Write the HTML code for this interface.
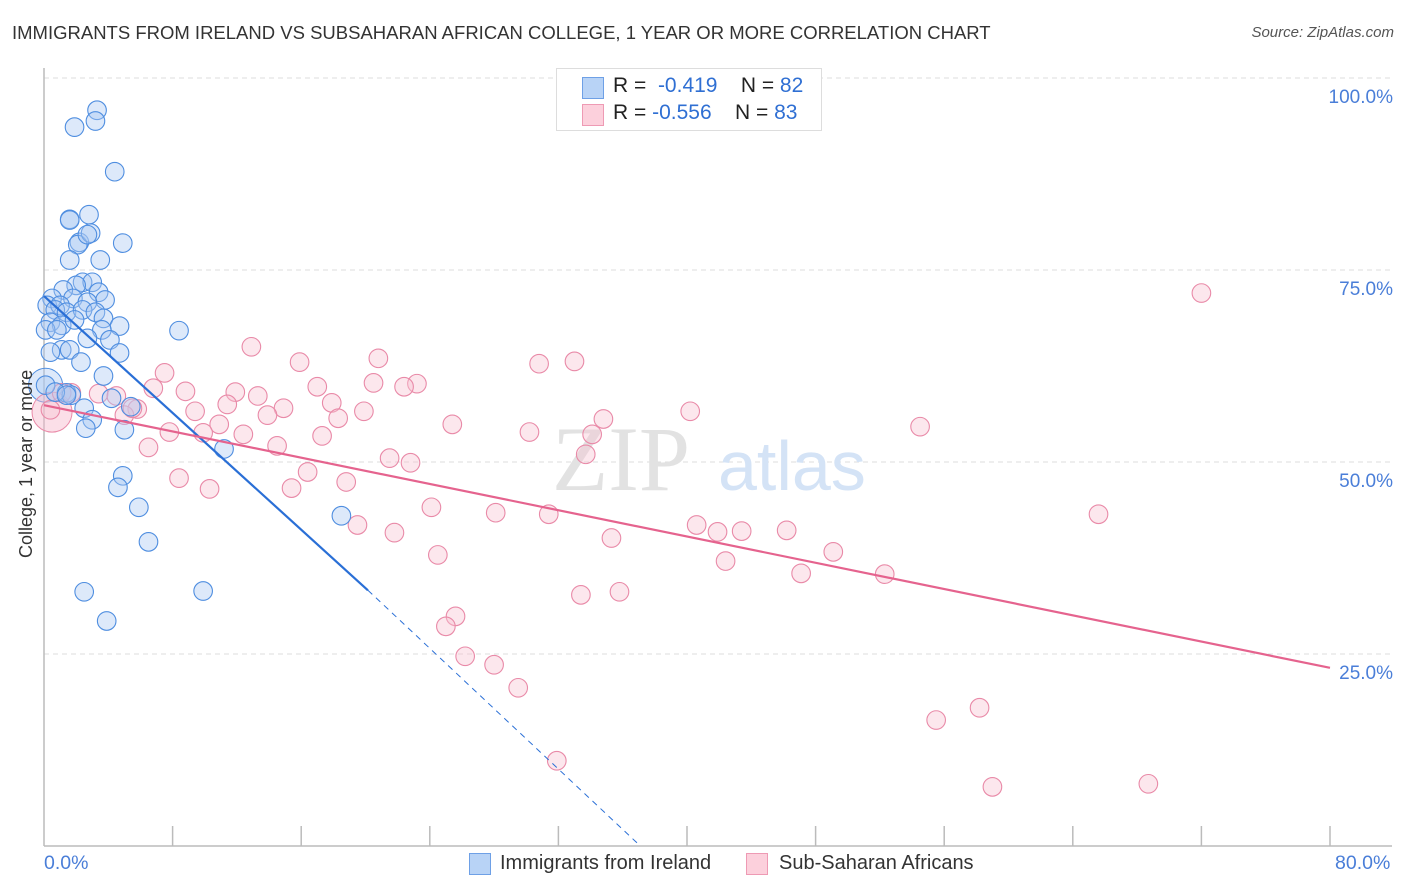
<!DOCTYPE html>
<html><head><meta charset="utf-8"><style>
body{margin:0;background:#fff;font-family:"Liberation Sans",sans-serif;}
#wrap{position:relative;width:1406px;height:892px;overflow:hidden;}
.t{position:absolute;white-space:nowrap;}
</style></head><body>
<div id="wrap">
<div class="t" style="left:12px;top:22px;font-size:18.5px;color:#333;">IMMIGRANTS FROM IRELAND VS SUBSAHARAN AFRICAN COLLEGE, 1 YEAR OR MORE CORRELATION CHART</div>
<div class="t" style="right:12px;top:24px;font-size:15px;color:#555;font-style:italic;">Source: ZipAtlas.com</div>
<svg id="svg" width="1406" height="892" style="position:absolute;left:0;top:0"></svg>
</div>
<script>
const yTicks=[100,75,50,25];
const yTickLabels=["100.0%","75.0%","50.0%","25.0%"];
const xTickVals=[0,8,16,24,32,40,48,56,64,72,80];
const blueX=[3.3,3.2,1.9,4.4,1.6,2.8,1.6,2.2,2.1,4.9,2.9,2.7,1.6,3.5,2.4,3.0,2.0,1.2,3.4,0.5,1.8,3.8,0.2,1.0,2.7,0.7,1.4,2.4,3.2,0.4,1.1,3.7,4.7,8.4,0.1,0.8,3.6,2.7,4.1,1.1,0.4,1.6,4.7,2.3,3.7,0.1,1.4,1.7,4.2,2.5,5.4,3.0,2.6,5.0,11.2,4.9,4.6,5.9,6.5,18.5,2.5,9.9,3.9,1.9,0.7,1.4];
const blueY=[95.8,94.4,93.6,87.8,81.6,82.2,81.5,78.6,78.3,78.5,79.8,79.6,76.3,76.3,73.4,73.4,73.0,72.4,72.1,71.3,71.3,71.1,70.4,70.4,70.8,69.8,69.5,69.8,69.5,68.2,67.8,68.7,67.7,67.1,67.2,67.2,67.2,66.1,65.9,64.6,64.3,64.6,64.2,63.0,61.2,60.0,59.0,58.7,58.3,57.0,57.2,55.5,54.4,54.2,51.7,48.2,46.7,44.1,39.6,43.0,33.1,33.2,29.3,68.5,59.1,58.7];
const pinkX=[72.0,12.9,20.8,33.0,15.9,30.8,7.5,20.5,23.2,22.4,17.0,11.9,6.8,8.8,13.3,1.7,3.4,1.1,4.5,11.4,17.9,14.9,9.4,19.9,5.8,5.0,13.9,18.3,34.8,40.2,25.4,54.5,10.9,7.8,9.9,12.4,17.3,30.2,34.1,6.5,14.5,21.5,22.8,33.7,16.4,8.4,18.8,10.3,15.4,24.1,28.1,31.4,65.6,40.6,41.9,43.4,46.2,19.5,21.8,35.3,49.1,24.5,42.4,47.1,52.3,33.4,35.8,25.6,25.0,26.2,28.0,29.5,58.2,55.5,31.9,59.0,68.7,0.4,5.5];
const pinkY=[72.0,65.0,63.5,63.1,63.0,62.8,61.6,60.3,60.2,59.8,59.8,59.1,59.6,59.2,58.6,59.0,58.9,59.0,58.6,57.5,57.7,57.0,56.6,56.6,56.9,56.1,56.1,55.7,55.6,56.6,54.9,54.6,54.9,53.9,53.8,53.6,53.4,53.9,53.6,51.9,52.1,50.5,49.9,51.0,48.7,47.9,47.4,46.5,46.6,44.1,43.4,43.2,43.2,41.8,40.9,41.0,41.1,41.8,40.8,40.1,38.3,37.9,37.1,35.5,35.4,32.7,33.1,29.9,28.6,24.7,23.6,20.6,18.0,16.4,11.1,7.7,8.1,56.8,57.0];
const blueTrend=[[0,71.6],[20.15,33.3],[37.1,0]];
const pinkTrend=[[0,57.4],[80,23.2]];
const X0=44,X1=1330,Y0=846,Y100=78;
const sx=v=>X0+(X1-X0)*v/80;
const sy=v=>Y0-(Y0-Y100)*v/100;
const svg=document.getElementById('svg');
const NS='http://www.w3.org/2000/svg';
function mk(tag,attrs,parent){const e=document.createElementNS(NS,tag);for(const k in attrs)e.setAttribute(k,attrs[k]);(parent||svg).appendChild(e);return e;}
yTicks.forEach((t,i)=>{
  const g=mk('line',{x1:X0,x2:1392,y1:sy(t),y2:sy(t),stroke:'#ddd','stroke-dasharray':'5,4'});
  
  
  const tx=mk('text',{x:1393,y:sy(t)+25,'text-anchor':'end','font-size':19,fill:'#4a7ed8','font-family':'Liberation Sans'});
  tx.textContent=yTickLabels[i];
  
  
});
const wm=mk('text',{x:552,y:490,'font-size':92,fill:'#e2e2e2','font-family':'Liberation Serif'});wm.textContent='ZIP';


const wm2=mk('text',{x:718,y:490,'font-size':70,fill:'#d4e3f6','font-family':'Liberation Sans'});wm2.textContent='atlas';


const ax=mk('line',{x1:X0,x2:1392,y1:Y0,y2:Y0,stroke:'#bbb','stroke-width':1.5});


const ay=mk('line',{x1:X0,x2:X0,y1:68,y2:Y0,stroke:'#bbb','stroke-width':1.5});


xTickVals.forEach(v=>{if(v===0)return;const t=mk('line',{x1:sx(v),x2:sx(v),y1:826,y2:Y0,stroke:'#bbb','stroke-width':1.5});
  
  });
function dots(xs,ys,fill,stroke,name){xs.forEach((x,i)=>{
  const c=mk('circle',{cx:sx(x),cy:sy(ys[i]),r:9.3,fill:fill,'fill-opacity':0.4,stroke:stroke,'stroke-width':1.1});
  
  });}
const bl=mk('circle',{cx:sx(0.1),cy:sy(60),r:17,fill:'#a9c9f3','fill-opacity':0.4,stroke:'#4f8ee0','stroke-width':1});


const pl=mk('circle',{cx:sx(0.5),cy:sy(56.5),r:20,fill:'#f6b8cb','fill-opacity':0.45,stroke:'#e98aa8','stroke-width':1});


dots(pinkX,pinkY,'#f8c3d3','#e98aa8','pink-point');
dots(blueX,blueY,'#a9c9f3','#4f8ee0','blue-point');
const b1=mk('line',{x1:sx(blueTrend[0][0]),y1:sy(blueTrend[0][1]),x2:sx(blueTrend[1][0]),y2:sy(blueTrend[1][1]),stroke:'#2a6fd6','stroke-width':2.2});


const b2=mk('line',{x1:sx(blueTrend[1][0]),y1:sy(blueTrend[1][1]),x2:sx(blueTrend[2][0]),y2:sy(blueTrend[2][1]),stroke:'#2a6fd6','stroke-width':1,'stroke-dasharray':'6,5'});


const p1=mk('line',{x1:sx(pinkTrend[0][0]),y1:sy(pinkTrend[0][1]),x2:sx(pinkTrend[1][0]),y2:sy(pinkTrend[1][1]),stroke:'#e5638e','stroke-width':2.2});


</script>
<div class="t" style="left:44px;top:852px;font-size:19.5px;color:#4a7ed8;">0.0%</div>
<div class="t" style="left:1335px;top:852px;font-size:19.5px;color:#4a7ed8;">80.0%</div>
<div class="t" style="left:16px;top:558px;font-size:18px;color:#333;transform:rotate(-90deg);transform-origin:0 0;">College, 1 year or more</div>
<div style="position:absolute;left:556px;top:68px;width:264px;height:61px;border:1px solid #ddd;background:#fff;">
 <div style="position:absolute;left:25px;top:8px;width:20px;height:20px;background:#b8d3f6;border:1px solid #6ea0e6;"></div>
 <div class="t" style="left:56px;top:5px;font-size:21px;color:#222;">R = &nbsp;<span style="color:#2f6fd3">-0.419</span>&nbsp;&nbsp;&nbsp; N = <span style="color:#2f6fd3">82</span></div>
 <div style="position:absolute;left:25px;top:35px;width:20px;height:20px;background:#fcd0dc;border:1px solid #ee9ab4;"></div>
 <div class="t" style="left:56px;top:32px;font-size:21px;color:#222;">R = <span style="color:#2f6fd3">-0.556</span>&nbsp;&nbsp;&nbsp; N = <span style="color:#2f6fd3">83</span></div>
</div>
<div style="position:absolute;left:469px;top:853px;width:20px;height:20px;background:#b8d3f6;border:1px solid #6ea0e6;"></div>
<div class="t" style="left:500px;top:852px;font-size:20px;color:#333;">Immigrants from Ireland</div>
<div style="position:absolute;left:746px;top:853px;width:20px;height:20px;background:#fcd0dc;border:1px solid #ee9ab4;"></div>
<div class="t" style="left:779px;top:852px;font-size:20px;color:#333;">Sub-Saharan Africans</div>
</body></html>
